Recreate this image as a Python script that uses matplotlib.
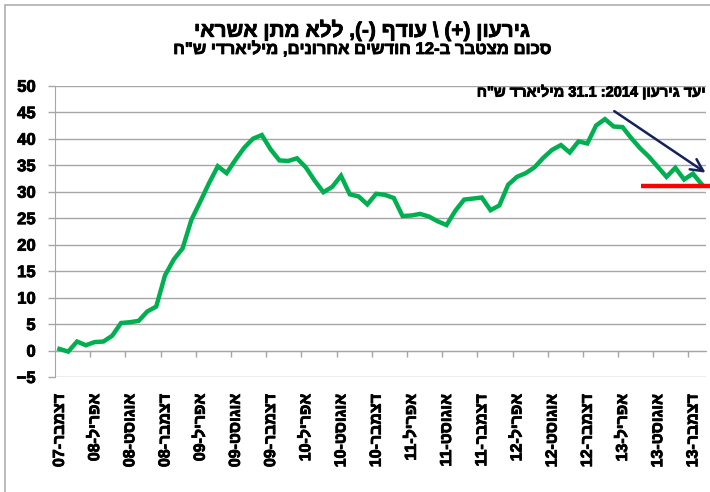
import re
import numpy as np
import matplotlib
matplotlib.use('Agg')
import matplotlib.pyplot as plt
import matplotlib.patheffects as pe
from matplotlib.patches import Rectangle

plt.rcParams['font.family'] = ['Liberation Sans', 'DejaVu Sans']
plt.rcParams['font.weight'] = 'bold'

# Excel renders its bold heavier than agg does, so thicken the strokes a little
fx = [pe.withStroke(linewidth=0.6, foreground='black')]


def visual(s):
    # matplotlib has no bidi: lay Hebrew out right-to-left, keep numbers as they are
    tokens = re.findall(r'\d+(?:\.\d+)?|.', s)[::-1]
    swap = {'(': ')', ')': '('}
    return ''.join(swap.get(t, t) for t in tokens)


# monthly, 12-month cumulative deficit, Dec 2007 .. Jan 2014 (NIS bn)
deficit = [0.3, -0.2, 1.7, 1.0, 1.6, 1.7, 2.8, 5.2, 5.35, 5.6, 7.4, 8.3,
           14.2, 17.2, 19.3, 24.7, 28.1, 31.6, 34.8, 33.5, 36.0, 38.3, 40.0, 40.7,
           38.0, 35.9, 35.8, 36.3, 34.6, 32.1, 29.9, 30.9, 33.0, 29.5, 29.1, 27.6,
           29.6, 29.4, 28.8, 25.4, 25.5, 25.8, 25.3, 24.4, 23.7, 26.4, 28.5, 28.7,
           28.9, 26.5, 27.4, 31.3, 32.8, 33.5, 34.6, 36.4, 37.9, 38.8, 37.4, 39.5,
           39.1, 42.5, 43.7, 42.3, 42.2, 40.1, 38.2, 36.6, 34.7, 32.8, 34.5, 32.3,
           33.4, 31.4]
tick_labels = ['דצמבר-07', 'אפריל-08', 'אוגוסט-08', 'דצמבר-08', 'אפריל-09',
               'אוגוסט-09', 'דצמבר-09', 'אפריל-10', 'אוגוסט-10', 'דצמבר-10',
               'אפריל-11', 'אוגוסט-11', 'דצמבר-11', 'אפריל-12', 'אוגוסט-12',
               'דצמבר-12', 'אפריל-13', 'אוגוסט-13', 'דצמבר-13']
target_2014 = 31.1

title = r'גירעון (+) \ עודף (-), ללא מתן אשראי'
subtitle = 'סכום מצטבר ב-12 חודשים אחרונים, מיליארדי ש"ח'
note = 'יעד גירעון 2014: 31.1 מיליארד ש"ח'

grey = '#a6a6a6'
green = '#00b050'

fig = plt.figure(figsize=(7.1, 4.92), dpi=100)
ax = fig.add_axes([0.0775, 0.2337, 0.917, 0.592])

x = np.arange(len(deficit))
ax.plot(x, deficit, color=green, lw=3.2, solid_joinstyle='miter', zorder=3)

ax.set_xlim(-0.5, len(deficit) - 0.5)
ax.set_ylim(-5, 50)
ax.set_yticks(np.arange(-5, 51, 5))
ax.grid(axis='y', color=grey, lw=1)
ax.set_axisbelow(True)
ax.tick_params(axis='y', length=5, color=grey, width=1, pad=9, labelsize=12)
for t in ax.get_yticklabels():
    t.set_fontweight('bold')
    t.set_path_effects(fx)

for side in ['top', 'right']:
    ax.spines[side].set_visible(False)
ax.spines['left'].set_color(grey)
ax.spines['bottom'].set_color(grey)
ax.spines['bottom'].set_position(('data', 0))

# tick marks between every 4th category, on the zero line
ax.set_xticks(np.arange(3.5, len(deficit) - 1, 4))
ax.tick_params(axis='x', length=4.5, color=grey, width=1, labelbottom=False)

# category labels at the bottom of the plot
sec = ax.secondary_xaxis('bottom')
sec.set_xticks(np.arange(0, len(deficit), 4), [visual(t) for t in tick_labels],
               rotation=90, fontsize=11.5, fontweight='bold')
sec.tick_params(length=0, pad=12)
sec.spines['bottom'].set_visible(False)
for t in sec.get_xticklabels():
    t.set_path_effects(fx)

# target line and trend arrow
ax.hlines(target_2014, 66.1, 73.9, color='red', lw=3.2, clip_on=False, zorder=4)
ax.annotate('', xy=(73.7, 33.3), xytext=(62.8, 45.5),
            arrowprops=dict(arrowstyle='->', color='#14215a', lw=1.8,
                            mutation_scale=22),
            annotation_clip=False, zorder=5)

fig.text(706 / 710, 1 - 92 / 492, visual(note), ha='right', va='center',
         fontsize=10.5, fontweight='bold', path_effects=fx)
fig.text(362 / 710, 1 - 30 / 492, visual(title), ha='center', va='center',
         fontsize=15, fontweight='bold', path_effects=fx)
fig.text(362 / 710, 1 - 49 / 492, visual(subtitle), ha='center', va='center',
         fontsize=12, fontweight='bold', path_effects=fx)

# chart area frame
fig.patches.append(Rectangle((5 / 710, -0.1), 1.2, 1.1 - 5 / 492,
                             transform=fig.transFigure, fill=False,
                             edgecolor='#b0b0b0', lw=1.2))

fig.savefig('out.png', dpi=100)
